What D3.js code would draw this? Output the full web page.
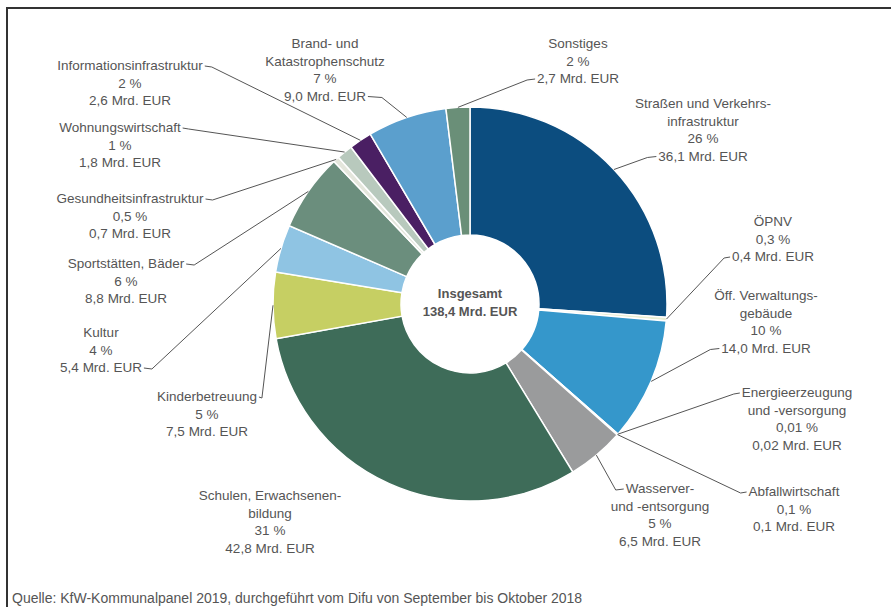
<!DOCTYPE html>
<html>
<head>
<meta charset="utf-8">
<script src="https://cdn.jsdelivr.net/npm/d3@7"></script>
<style>
  body { margin: 0; background: #fff; }
  text { font-family: "Liberation Sans", Arial, sans-serif; }
</style>
</head>
<body>
<svg id="chart"></svg>
<script>
// Chart size
const width = 891;
const height = 607;

// Data (Mrd. EUR), clockwise from the top
const categories = [
  "Straßen und Verkehrsinfrastruktur", "ÖPNV", "Öff. Verwaltungsgebäude",
  "Energieerzeugung und -versorgung", "Abfallwirtschaft", "Wasserver- und -entsorgung",
  "Schulen, Erwachsenenbildung", "Kinderbetreuung", "Kultur", "Sportstätten, Bäder",
  "Gesundheitsinfrastruktur", "Wohnungswirtschaft", "Informationsinfrastruktur",
  "Brand- und Katastrophenschutz", "Sonstiges"
];
const values = [36.1, 0.4, 14.0, 0.02, 0.1, 6.5, 42.8, 7.5, 5.4, 8.8, 0.7, 1.8, 2.6, 9.0, 2.7];
const percentLabels = ["26 %", "0,3 %", "10 %", "0,01 %", "0,1 %", "5 %", "31 %", "5 %", "4 %", "6 %", "0,5 %", "1 %", "2 %", "7 %", "2 %"];
const valueLabels = ["36,1 Mrd. EUR", "0,4 Mrd. EUR", "14,0 Mrd. EUR", "0,02 Mrd. EUR", "0,1 Mrd. EUR",
  "6,5 Mrd. EUR", "42,8 Mrd. EUR", "7,5 Mrd. EUR", "5,4 Mrd. EUR", "8,8 Mrd. EUR",
  "0,7 Mrd. EUR", "1,8 Mrd. EUR", "2,6 Mrd. EUR", "9,0 Mrd. EUR", "2,7 Mrd. EUR"];
// how the category name is broken over lines in the labels
const nameLines = [
  ["Straßen und Verkehrs-", "infrastruktur"], ["ÖPNV"], ["Öff. Verwaltungs-", "gebäude"],
  ["Energieerzeugung", "und -versorgung"], ["Abfallwirtschaft"], ["Wasserver-", "und -entsorgung"],
  ["Schulen, Erwachsenen-", "bildung"], ["Kinderbetreuung"], ["Kultur"], ["Sportstätten, Bäder"],
  ["Gesundheitsinfrastruktur"], ["Wohnungswirtschaft"], ["Informationsinfrastruktur"],
  ["Brand- und", "Katastrophenschutz"], ["Sonstiges"]
];
const totalLabel = ["Insgesamt", "138,4 Mrd. EUR"];
const source = "Quelle: KfW-Kommunalpanel 2019, durchgeführt vom Difu von September bis Oktober 2018";

const colors = ["#0c4d7f", "#e9eed2", "#3597cb", "#d9e4c4", "#c9d3c0", "#9a9b9c",
  "#3e6c59", "#c6cf63", "#8fc4e3", "#6b8e7d", "#e4e6dc", "#b8c9bd", "#4a1f63", "#5b9fcd", "#6a8f78"];

// label layout: centre x, first baseline, leader: which line, which side, elbow length
const labelLayout = [
  { x: 703, y: 108, lead: { line: 3, side: "left", dx: -9 } },
  { x: 773, y: 226, lead: { line: 2, side: "left", dx: -6 } },
  { x: 766, y: 300, lead: { line: 3, side: "left", dx: -9 } },
  { x: 797, y: 397, lead: { line: 0, side: "left", dx: -6 } },
  { x: 794, y: 496, lead: { line: 0, side: "left", dx: -6 } },
  { x: 660, y: 493, lead: { line: 0, side: "left", dx: -8 } },
  { x: 270, y: 500, lead: null },
  { x: 207, y: 401, lead: { line: 0, side: "right", dx: 3 } },
  { x: 101, y: 337, lead: { line: 2, side: "right", dx: 8 } },
  { x: 126, y: 268, lead: { line: 0, side: "right", dx: 8 } },
  { x: 130, y: 203, lead: { line: 0, side: "right", dx: 7 } },
  { x: 120, y: 132, lead: { line: 0, side: "right", dx: 6 } },
  { x: 130, y: 70, lead: { line: 0, side: "right", dx: 7 } },
  { x: 325, y: 48, lead: { line: 3, side: "right", dx: 14 } },
  { x: 578, y: 48, lead: { line: 2, side: "left", dx: -8 } }
];

const cx = 470, cy = 304;
const outerR = 197, innerR = 69;
const lineH = 17.5;
const fontSize = 13.5;

const svg = d3.select("#chart")
    .attr("width", width)
    .attr("height", height);

// frame (top and left edges)
svg.append("path")
    .attr("d", `M7,${height} V8 H${width}`)
    .attr("fill", "none")
    .attr("stroke", "#333")
    .attr("stroke-width", 2);

const pie = d3.pie().sort(null).value(d => d)(values);
const arc = d3.arc().innerRadius(innerR).outerRadius(outerR);

const g = svg.append("g").attr("transform", `translate(${cx},${cy})`);

g.selectAll("path.slice")
    .data(pie)
    .enter()
    .append("path")
    .attr("class", "slice")
    .attr("d", arc)
    .attr("fill", (d, i) => colors[i])
    .attr("stroke", "#fff")
    .attr("stroke-width", 1.5);

// point on the outer edge at a slice's mid angle
function edgePoint(d) {
    const a = (d.startAngle + d.endAngle) / 2;
    return [cx + outerR * Math.sin(a), cy - outerR * Math.cos(a)];
}

const leaderLayer = svg.append("g");

// labels
const labels = svg.selectAll("text.label")
    .data(categories)
    .enter()
    .append("text")
    .attr("class", "label")
    .attr("text-anchor", "middle")
    .attr("font-size", fontSize)
    .attr("fill", "#555");

labels.each(function (d, i) {
    const lay = labelLayout[i];
    const lines = nameLines[i].concat([percentLabels[i], valueLabels[i]]);
    const spans = d3.select(this).selectAll("tspan")
        .data(lines)
        .enter()
        .append("tspan")
        .attr("x", lay.x)
        .attr("y", (t, j) => lay.y + j * lineH)
        .text(t => t);

    if (!lay.lead) return;
    // leader starts at the end of one of the label lines
    const node = spans.nodes()[lay.lead.line];
    const w = node.getComputedTextLength();
    const sx = lay.lead.side === "left" ? lay.x - w / 2 - 2 : lay.x + w / 2 + 2;
    const sy = lay.y + lay.lead.line * lineH - 4;
    leaderLayer.append("path")
        .attr("d", d3.line()([[sx, sy], [sx + lay.lead.dx, sy + 1], edgePoint(pie[i])]))
        .attr("fill", "none")
        .attr("stroke", "#555")
        .attr("stroke-width", 1);
});

// total in the centre
svg.append("text")
    .attr("text-anchor", "middle")
    .attr("font-size", 13)
    .attr("font-weight", "bold")
    .attr("fill", "#555")
    .selectAll("tspan")
    .data(totalLabel)
    .enter()
    .append("tspan")
    .attr("x", cx)
    .attr("y", (t, j) => 298 + j * 18)
    .text(t => t);

// source line
svg.append("text")
    .attr("x", 12)
    .attr("y", 603)
    .attr("font-size", 14)
    .attr("fill", "#555")
    .text(source);
</script>
</body>
</html>
